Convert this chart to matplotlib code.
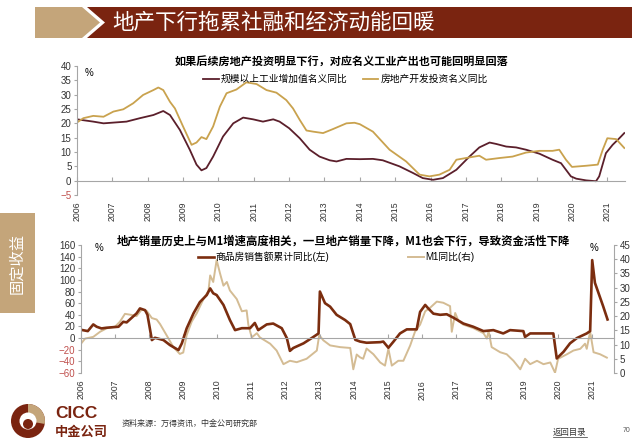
import matplotlib.pyplot as plt
from matplotlib.patches import Polygon, Rectangle, Circle, Wedge

plt.rcParams['font.family'] = ['Liberation Sans', 'Noto Sans CJK SC']
CJK = ['Noto Sans CJK SC', 'DejaVu Sans']

# ---- data ----
years = list(range(2006, 2022))

# top chart: 规模以上工业增加值名义同比
ind_x = [2006.0, 2006.46, 2006.75, 2007.4, 2007.78, 2008.16, 2008.44, 2008.63, 2008.91, 2009.19,
         2009.38, 2009.52, 2009.66, 2009.85, 2010.13, 2010.42, 2010.7, 2010.98, 2011.26, 2011.55,
         2011.73, 2012.0, 2012.3, 2012.58, 2012.86, 2013.15, 2013.34, 2013.62, 2014.0, 2014.37,
         2014.65, 2015.12, 2015.5, 2015.78, 2016.07, 2016.35, 2016.73, 2017.1, 2017.38, 2017.67,
         2017.86, 2018.14, 2018.42, 2018.7, 2019.08, 2019.45, 2019.69, 2019.83, 2019.97, 2020.12,
         2020.4, 2020.68, 2020.77, 2020.96, 2021.15, 2021.34, 2021.48]
ind_y = [21.4, 20.6, 20.0, 20.6, 21.8, 22.9, 24.3, 22.9, 17.7, 10.8,
         5.6, 3.6, 4.4, 8.4, 15.4, 20.0, 22.0, 21.4, 20.6, 21.4,
         20.6, 18.3, 14.8, 10.8, 8.4, 7.1, 6.7, 7.6, 7.5, 7.6,
         7.1, 5.0, 2.7, 0.9, 0.3, 0.9, 3.8, 8.4, 11.6, 13.3,
         12.8, 11.9, 11.6, 10.8, 9.4, 7.3, 6.1, 3.8, 1.5, 0.7,
         0.1, -0.2, 1.5, 9.6, 12.5, 14.8, 16.6]

# top chart: 房地产开发投资名义同比
re_x = [2006.0, 2006.18, 2006.46, 2006.75, 2007.03, 2007.31, 2007.59, 2007.87, 2008.16, 2008.3,
        2008.44, 2008.63, 2008.77, 2009.0, 2009.24, 2009.38, 2009.52, 2009.66, 2009.85, 2010.04,
        2010.23, 2010.51, 2010.79, 2011.08, 2011.36, 2011.64, 2011.92, 2012.11, 2012.3, 2012.49,
        2012.68, 2012.96, 2013.24, 2013.62, 2013.85, 2014.0, 2014.37, 2014.84, 2015.31, 2015.69,
        2015.97, 2016.25, 2016.54, 2016.73, 2017.0, 2017.38, 2017.57, 2017.95, 2018.32, 2018.7,
        2019.08, 2019.45, 2019.64, 2019.83, 2020.0, 2020.4, 2020.73, 2020.87, 2021.0, 2021.25,
        2021.48]
re_y = [20.3, 21.8, 22.6, 22.3, 24.1, 24.9, 27.0, 29.9, 31.6, 32.5,
        31.6, 27.5, 25.2, 18.9, 12.5, 13.3, 15.2, 14.5, 18.9, 25.8,
        30.5, 31.8, 34.3, 33.7, 31.6, 30.7, 28.1, 25.2, 21.2, 17.5,
        17.1, 16.6, 18.0, 20.0, 20.2, 19.7, 17.1, 10.8, 6.7, 2.1,
        1.5, 2.1, 3.8, 7.3, 7.9, 8.7, 7.3, 7.9, 8.4, 9.8,
        10.4, 10.4, 10.8, 7.3, 4.8, 5.2, 5.6, 10.8, 14.8, 14.5,
        11.4]

# bottom chart: 商品房销售额累计同比 (left axis)
sales_x = [2006.05, 2006.2, 2006.36, 2006.46, 2006.6, 2006.75, 2007.1, 2007.24, 2007.34, 2007.49,
           2007.63, 2007.73, 2007.88, 2007.95, 2008.08, 2008.17, 2008.42, 2008.61, 2008.86, 2008.96,
           2009.1, 2009.3, 2009.49, 2009.69, 2009.79, 2009.88, 2009.98, 2010.18, 2010.37, 2010.52,
           2010.72, 2010.96, 2011.1, 2011.2, 2011.45, 2011.64, 2011.89, 2012.04, 2012.13, 2012.23,
           2012.53, 2012.82, 2012.97, 2013.01, 2013.16, 2013.31, 2013.5, 2013.75, 2013.9, 2014.05,
           2014.19, 2014.38, 2014.78, 2014.87, 2015.02, 2015.17, 2015.36, 2015.56, 2015.85, 2015.95,
           2016.1, 2016.19, 2016.34, 2016.54, 2016.73, 2016.93, 2017.22, 2017.51, 2017.81, 2018.1,
           2018.39, 2018.59, 2018.98, 2019.03, 2019.18, 2019.47, 2019.86, 2019.96, 2020.16, 2020.35,
           2020.55, 2020.84, 2020.94, 2021.0, 2021.08, 2021.2, 2021.32, 2021.45]
sales_y = [13.7, 12, 23.5, 19.5, 16.6, 17.8, 19.5, 28, 27, 35,
           42.4, 51, 48, 40, -3.4, 0.5, -3.4, -12, -20.6, -9,
           16.6, 42.4, 62, 74, 85.4, 77, 74, 57, 31, 13.7,
           17, 17, 26, 13.7, 23.5, 25, 17, 0, -22, -17,
           -9, 2, 8, 80, 60, 54, 40, 31, 24, -3,
           -6, -8, -7, -6, -16.6, -6, 8, 15, 15, 45,
           57, 51, 42, 40, 41, 35, 25, 19.5, 12, 13.7,
           8, 13.7, 12, 2, 8, 8, 8, -35, -23.5, -9,
           0, 8, 12, 134, 95, 75, 55, 32]

# bottom chart: M1同比 (right axis)
m1_x = [2006.0, 2006.12, 2006.36, 2006.56, 2006.75, 2007.0, 2007.14, 2007.29, 2007.49, 2007.63,
        2007.78, 2007.93, 2008.08, 2008.22, 2008.32, 2008.51, 2008.71, 2008.9, 2009.0, 2009.1,
        2009.25, 2009.4, 2009.59, 2009.74, 2009.79, 2009.88, 2009.98, 2010.08, 2010.18, 2010.28,
        2010.37, 2010.57, 2010.72, 2010.86, 2010.91, 2011.01, 2011.16, 2011.25, 2011.55, 2011.74,
        2011.94, 2012.13, 2012.33, 2012.62, 2012.92, 2012.99, 2013.11, 2013.31, 2013.6, 2013.9,
        2013.99, 2014.09, 2014.19, 2014.28, 2014.38, 2014.58, 2014.78, 2014.92, 2015.02, 2015.12,
        2015.31, 2015.46, 2015.66, 2015.8, 2015.95, 2016.1, 2016.24, 2016.44, 2016.63, 2016.83,
        2016.88, 2016.98, 2017.08, 2017.22, 2017.51, 2017.81, 2017.91, 2017.96, 2018.05, 2018.3,
        2018.49, 2018.69, 2018.89, 2019.03, 2019.18, 2019.38, 2019.57, 2019.77, 2019.91, 2020.0,
        2020.26, 2020.45, 2020.65, 2020.79, 2020.84, 2020.94, 2021.04, 2021.23, 2021.43]
m1_y = [10.3, 12.1, 12.7, 14.5, 15.7, 16.3, 18, 20.8, 20.4, 20,
        22.3, 21.8, 19.3, 18.8, 17.2, 13.3, 9.1, 6.7, 7.2, 13.3,
        18.1, 21.1, 25.9, 28.9, 34.3, 32, 39.7, 35, 30.7, 32,
        29, 26, 21.7, 22, 17, 12.5, 14, 12.5, 10.3, 7.9,
        3.1, 4.3, 3.8, 5, 7.9, 13.3, 11.5, 9.7, 9.1, 8.8,
        1.3, 6.5, 5.5, 5.0, 8.6, 6.6, 3.7, 2.6, 8.5, 2.6,
        4.3, 4.3, 9.7, 14.5, 17, 21.7, 22.9, 25.1, 24.7, 23.5,
        14.5, 21.1, 18.2, 17, 15.8, 14, 12.1, 14.7, 9.1, 7.3,
        6.6, 4.3, 1.3, 5.0, 3.1, 4.3, 3.1, 3.7, 0.1, 5.0,
        6.6, 7.9, 8.5, 10.3, 8.5, 14.5, 7.3, 6.6, 5.4]

TAN = '#c4a57a'
RED = '#7a2410'
GRID = '#a6a6a6'
NEG = '#c0504d'

W, H = 640, 447
fig = plt.figure(figsize=(6.4, 4.47), dpi=100, facecolor='white')

# overlay in pixel coordinates for the page decoration
ov = fig.add_axes([0, 0, 1, 1])
ov.set_xlim(0, W); ov.set_ylim(H, 0)
ov.axis('off'); ov.patch.set_visible(False)

ov.add_patch(Polygon([(35, 7), (82, 7), (100, 22.5), (82, 38), (35, 38)], fc=TAN, ec='none'))
ov.add_patch(Polygon([(87, 7), (632, 7), (632, 38), (87, 38), (105, 22.5)], fc=RED, ec='none'))
ov.text(112, 23, '地产下行拖累社融和经济动能回暖', color='white', fontsize=15.5,
        va='center', ha='left', family=CJK)

ov.add_patch(Rectangle((0, 213), 35, 100, fc=TAN, ec='none'))
ov.text(17, 263, '固定收益', color='white', fontsize=11, rotation=90,
        va='center', ha='center', family=CJK)

# logo
ov.add_patch(Circle((28, 421), 17, fc=RED, ec='none'))
ov.add_patch(Wedge((28, 421), 17, 270, 10, fc=TAN, ec='none'))
ov.add_patch(Circle((28, 421), 8.5, fc='white', ec='none'))
ov.add_patch(Circle((28, 424), 5, fc=RED, ec='none'))
ov.text(55, 414, 'CICC', color=RED, fontsize=12.5, weight='bold', va='center', ha='left')
ov.text(55, 432, '中金公司', color=RED, fontsize=9.5, weight='bold', va='center', ha='left', family=CJK)
ov.text(122, 423, '资料来源：万得资讯，中金公司研究部', color='#333333', fontsize=5.8,
        va='center', ha='left', family=CJK)
ov.text(553, 432, '返回目录', color='#333333', fontsize=6, va='center', ha='left', family=CJK)
ov.plot([553, 587], [437, 437], color='#333333', lw=0.5)
ov.text(623, 431, '70', color='#555555', fontsize=5, va='center', ha='left')

# chart titles and unit marks
ov.text(342, 62, '如果后续房地产投资明显下行，对应名义工业产出也可能回明显回落',
        fontsize=8, weight='bold', ha='center', va='center', family=CJK)
ov.text(343, 241, '地产销量历史上与M1增速高度相关，一旦地产销量下降，M1也会下行，导致资金活性下降',
        fontsize=8.2, weight='bold', ha='center', va='center', family=CJK)
ov.text(85, 73, '%', fontsize=7, ha='left', va='center')
ov.text(95, 248, '%', fontsize=7, ha='left', va='center')
ov.text(590, 248, '%', fontsize=7, ha='left', va='center')


def style_axis(ax, pad):
    for s in ['top', 'right']:
        ax.spines[s].set_visible(False)
    ax.spines['left'].set_color(GRID)
    ax.spines['bottom'].set_color(GRID)
    ax.spines['bottom'].set_position(('data', 0))
    ax.tick_params(axis='x', direction='in', length=3, color=GRID, labelsize=6.3,
                   labelrotation=90, pad=pad, labelcolor='#333333')
    ax.tick_params(axis='y', direction='out', length=2, color=GRID, labelsize=7,
                   pad=2, labelcolor='#333333')
    ax.set_xticks(years)
    ax.set_xticklabels([str(y) for y in years])
    ax.patch.set_visible(False)
    for lab, v in zip(ax.get_yticklabels(), ax.get_yticks()):
        if v < 0:
            lab.set_color(NEG)


# top chart
ax1 = fig.add_axes([77 / W, 1 - 195 / H, 548 / W, 129 / H])
l1, = ax1.plot(ind_x, ind_y, color='#5b1f2b', lw=1.3, label='规模以上工业增加值名义同比')
l2, = ax1.plot(re_x, re_y, color='#c9a24e', lw=1.3, label='房地产开发投资名义同比')
ax1.set_xlim(2006, 2021.5)
ax1.set_ylim(-5, 40)
ax1.set_yticks(range(-5, 41, 5))
style_axis(ax1, 15)
ax1.legend(handles=[l1, l2], loc='center left', bbox_to_anchor=(203 / W, 1 - 79 / H),
           bbox_transform=fig.transFigure, ncol=2, frameon=False, fontsize=7,
           handlelength=1.6, handletextpad=0.2, columnspacing=1.6, borderpad=0,
           borderaxespad=0)

# bottom chart
ax2 = fig.add_axes([81 / W, 1 - 373 / H, 533 / W, 128 / H])
ax3 = ax2.twinx()
l4, = ax3.plot(m1_x, m1_y, color='#d4bc94', lw=1.4, label='M1同比(右)')
l3, = ax2.plot(sales_x, sales_y, color='#7b2d0f', lw=1.9, label='商品房销售额累计同比(左)')
ax2.set_zorder(ax3.get_zorder() + 1)
ax2.set_xlim(2006, 2021.64)
ax2.set_ylim(-60, 160)
ax2.set_yticks(range(-60, 161, 20))
style_axis(ax2, 30)
ax3.set_ylim(0, 45)
ax3.set_yticks(range(0, 46, 5))
for s in ['top', 'left', 'bottom']:
    ax3.spines[s].set_visible(False)
ax3.spines['right'].set_color(GRID)
ax3.tick_params(axis='y', direction='out', length=2, color=GRID, labelsize=7, pad=2,
                labelcolor='#333333')
ax2.legend(handles=[l3], loc='center left', bbox_to_anchor=(198 / W, 1 - 257 / H),
           bbox_transform=fig.transFigure, frameon=False, fontsize=7,
           handlelength=1.6, handletextpad=0.2, borderpad=0, borderaxespad=0)
ax3.legend(handles=[l4], loc='center left', bbox_to_anchor=(408 / W, 1 - 257 / H),
           bbox_transform=fig.transFigure, frameon=False, fontsize=7,
           handlelength=1.6, handletextpad=0.2, borderpad=0, borderaxespad=0)

fig.savefig('out.png', dpi=100, facecolor='white')
